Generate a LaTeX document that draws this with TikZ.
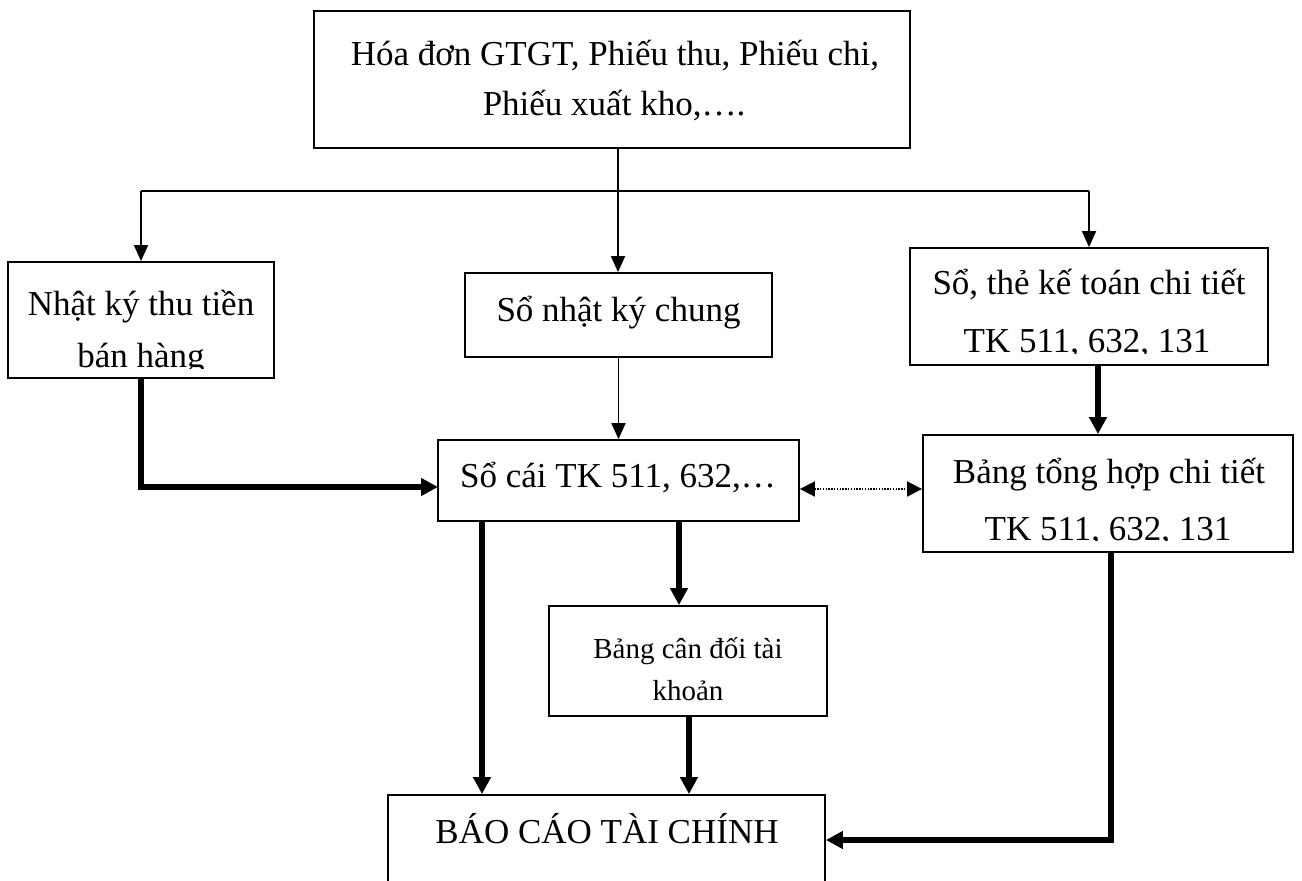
\documentclass[tikz,border=0pt]{standalone}
\usepackage{fontspec}
\setmainfont{Liberation Serif}
\usetikzlibrary{arrows.meta}
\begin{document}
\begin{tikzpicture}[x=1pt,y=-1pt,
  box/.style={draw,line width=1.8pt,inner sep=0pt},
  lbl/.style={inner sep=0pt,anchor=base,font=\fontsize{35}{35}\selectfont},
  lblsmall/.style={inner sep=0pt,anchor=base,font=\fontsize{29}{29}\selectfont},
  plainline/.style={line width=1.8pt},
  thinarrow/.style={line width=1.8pt,-{Triangle[length=16pt,width=14pt]}},
  thickarrow/.style={line width=5.5pt,-{Triangle[length=17pt,width=17pt]}},
  dotarrow/.style={line width=1.8pt,dash pattern=on 1.4pt off 1.4pt,
    {Triangle[length=15pt,width=15pt]}-{Triangle[length=15pt,width=15pt]}}]
\useasboundingbox (0,0) rectangle (1302,881);
\clip (0,0) rectangle (1302,881);

% boxes
\node[box,minimum width=596pt,minimum height=137pt] (src) at (612,79.5) {};
\node[box,minimum width=266pt,minimum height=116pt] (nkt) at (141,320) {};
\node[box,minimum width=307pt,minimum height=84pt] (nkc) at (618.5,315) {};
\node[box,minimum width=358pt,minimum height=117pt] (nrb) at (1089,306.5) {};
\node[box,minimum width=361pt,minimum height=81pt] (socai) at (618.5,480.5) {};
\node[box,minimum width=370pt,minimum height=117pt] (bth) at (1108,493.5) {};
\node[box,minimum width=278pt,minimum height=110pt] (bcd) at (688,661) {};
\node[box,minimum width=437pt,minimum height=110pt] (bccao) at (606.5,850) {};

% texts (the lower lines of three boxes are cut off by the box margin)
\node[lbl] (srcA) at (615,65) {Hóa đơn GTGT, Phiếu thu, Phiếu chi,};
\node[lbl] (srcB) at (614,115) {Phiếu xuất kho,….};
\begin{scope}
  \clip (nkt.north west) rectangle ([yshift=10pt]nkt.south east);
  \node[lbl] (nktA) at (141,315) {Nhật ký thu tiền};
  \node[lbl] (nktB) at (141,367.5) {bán hàng};
\end{scope}
\node[lbl] (nkcA) at (618.5,321) {Sổ nhật ký chung};
\begin{scope}
  \clip (nrb.north west) rectangle ([yshift=12.5pt]nrb.south east);
  \node[lbl] (nrbA) at (1089,294) {Sổ, thẻ kế toán chi tiết};
  \node[lbl] (nrbB) at (1087,352.5) {TK 511, 632, 131};
\end{scope}
\node[lbl] (socaiA) at (618,487) {Sổ cái TK 511, 632,…};
\begin{scope}
  \clip (bth.north west) rectangle ([yshift=12pt]bth.south east);
  \node[lbl] (bthA) at (1109,483) {Bảng tổng hợp chi tiết};
  \node[lbl] (bthB) at (1108,540) {TK 511, 632, 131};
\end{scope}
\node[lblsmall] (bcdA) at (688,658) {Bảng cân đối tài};
\node[lblsmall] (bcdB) at (688,700) {khoản};
\node[lbl] (bccaoA) at (607,843) {BÁO CÁO TÀI CHÍNH};

% helper coordinates
\coordinate (split) at (618,191);
\coordinate (inL) at (438,487);
\coordinate (xr) at (1098,0);
\coordinate (ydot) at (0,489);
\coordinate (xa) at (482,0);
\coordinate (xb) at (679,0);
\coordinate (xc) at (689,0);
\coordinate (xd) at (1111,0);
\coordinate (yd) at (0,840);

% thin connectors from the source documents
\draw[plainline] (split |- src.south) -- (split);
\draw[plainline] (split -| nkt.north) -- (split -| nrb.north);
\draw[thinarrow] (split -| nkt.north) -- (nkt.north);
\draw[thinarrow] (split) -- (split |- nkc.north);
\draw[thinarrow] (split -| nrb.north) -- (nrb.north);
\draw[thinarrow] (nkc.south) -- (socai.north);

% thick connectors
\draw[thickarrow] (nkt.south) |- (inL);
\draw[thickarrow] (nrb.south -| xr) -- (bth.north -| xr);
\draw[dotarrow] (socai.east |- ydot) -- (bth.west |- ydot);
\draw[thickarrow] (socai.south -| xa) -- (bccao.north -| xa);
\draw[thickarrow] (socai.south -| xb) -- (bcd.north -| xb);
\draw[thickarrow] (bcd.south -| xc) -- (bccao.north -| xc);
\draw[thickarrow] (bth.south -| xd) |- (bccao.east |- yd);
\end{tikzpicture}
\end{document}
